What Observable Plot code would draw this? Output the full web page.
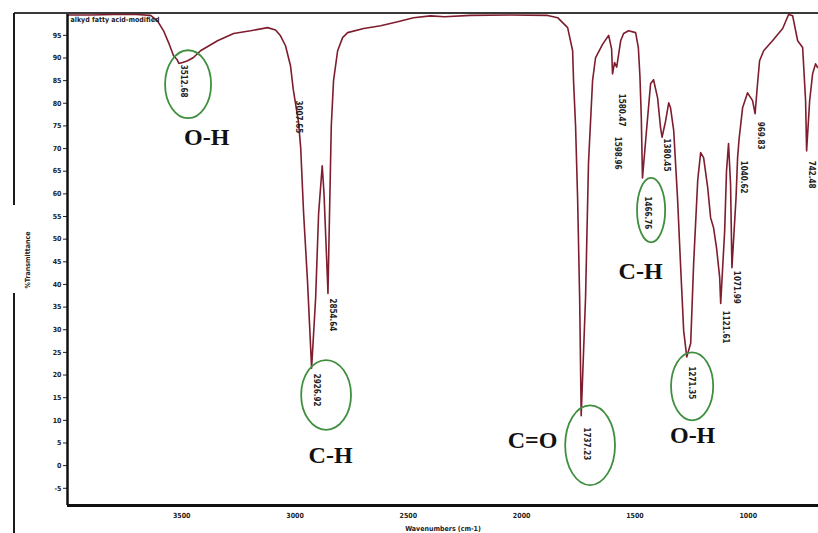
<!DOCTYPE html>
<html><head><meta charset="utf-8">
<script src="https://cdn.jsdelivr.net/npm/d3@7"></script>
<script src="https://cdn.jsdelivr.net/npm/@observablehq/plot@0.6"></script>
<style>
body{margin:0;background:#fff;}
#chart svg{display:block;}
</style></head><body><div id="chart"></div>
<script>
// Spectrum
const wavenumber = [4000,3900,3800,3700,3637,3607,3580,3558,3536,3520,3512.68,3496,3474,3448,3417,3342,3271,3196,3121,3086,3064,3042,3020,3007.65,2985,2975,2962,2945,2931,2926.92,2909,2896,2880,2872,2864,2856,2854.64,2848,2840,2830,2812,2790,2768,2697,2622,2547,2477,2402,2340,2225,2049,1885,1841,1797,1775,1771,1762,1753,1744,1737.23,1718,1705,1687,1674,1643,1616,1603,1598.96,1590,1580.47,1563,1550,1528,1497,1485,1478,1472,1466.76,1449,1431,1418,1400,1387,1380.45,1365,1351,1343,1329,1312,1299,1285,1271.35,1254,1241,1223,1210,1197,1179,1166,1153,1140,1126,1121.61,1104,1096,1087,1078,1071.99,1054,1047,1040.62,1025,1003,981,969.83,959,950,932,893,848,822,804,782,760,747,742.48,729,716,703,694,690];
const transmittance = [99.5,99.5,99.6,99.6,99.4,98.2,96.0,93.4,90.5,89.6,88.8,89.0,89.4,90.1,91.6,93.8,95.4,96.0,96.7,96.2,94.9,92.7,88.3,83.0,76,70.2,55.6,40.8,26,21.5,37,55.6,66.2,60,50,40,38,55,75,85,91.6,94.5,95.6,96.5,97.1,98.0,98.9,99.3,99.1,99.4,99.5,99.4,98.9,96.7,91.6,85,75,59,37,11,37,66.7,85,90,93,95,92,86.5,89,88,93.8,95.4,96,95.6,92.3,86,77,63.5,74,84.3,85.2,81.2,74.6,72.5,76,80.1,79,74,59,44.6,29.8,24,27,44.6,63,69.1,68,61.4,54.7,52.5,48.1,41.5,35.8,51.9,65,71.1,62,43.7,59,68,72,79,82.3,80.6,77.7,84.3,89.4,91.6,93.8,96.5,99.6,99.3,93.8,92.3,80.6,69.5,80.6,86.5,88.7,87.9,88];

// Peak labels: wavenumber and %T where the label starts
const peakWavenumber = [3512.68,3007.65,2926.92,2854.64,1737.23,1598.96,1580.47,1466.76,1380.45,1271.35,1121.61,1071.99,1040.62,969.83,742.48];
const peakLabelAt = [88.5,80.6,20.3,36.9,8.4,72.6,82.1,59.4,72.2,21.9,34.2,43,67.3,75.9,67.3];

// Circled bands (centre and half extents in data units)
const ringWavenumber = [3469.7,2860.7,1695.7,1426.5,1245.5];
const ringT = [84.1,15.5,4.4,56.3,17.4];
const ringHalfWidth = [101.5,110,110,62,93];
const ringHalfHeight = [7.5,7.7,8.8,7.1,7.5];

// Group assignments
const groupLabel = ["O-H","C-H","C=O","C-H","O-H"];
const groupWavenumber = [3390,2843,1951.6,1475,1245.5];
const groupT = [72.4,2.2,5.5,43,6.6];

const xTicks = [3500,3000,2500,2000,1500,1000];
const yTicks = [-5,0,5,10,15,20,25,30,35,40,45,50,55,60,65,70,75,80,85,90,95];
const title = "alkyd fatty acid-modified";

const spectrum = wavenumber.map((w,i)=>({w, t: transmittance[i]}));
const peaks = peakWavenumber.map((w,i)=>({w, t: peakLabelAt[i], label: w.toFixed(2)}));
const rings = ringWavenumber.map((w,i)=>({w, t: ringT[i], hw: ringHalfWidth[i], ht: ringHalfHeight[i]}));
const groups = groupLabel.map((g,i)=>({label: g, w: groupWavenumber[i], t: groupT[i]}));

const NS = "http://www.w3.org/2000/svg";
function ringMark(index, scales) {
  const g = document.createElementNS(NS, "g");
  for (const r of rings) {
    const e = document.createElementNS(NS, "ellipse");
    const cx = scales.x(r.w), cy = scales.y(r.t);
    e.setAttribute("cx", cx);
    e.setAttribute("cy", cy);
    e.setAttribute("rx", Math.abs(scales.x(r.w + r.hw) - cx));
    e.setAttribute("ry", Math.abs(scales.y(r.t + r.ht) - cy));
    e.setAttribute("fill", "none");
    e.setAttribute("stroke", "#3f8f3f");
    e.setAttribute("stroke-width", "1.8");
    g.appendChild(e);
  }
  return g;
}
function frameMark(index, scales, values, dims) {
  const g = document.createElementNS(NS, "g");
  const top = dims.marginTop - 1;
  const mk = (x1,y1,x2,y2,w,c) => {
    const l = document.createElementNS(NS, "line");
    l.setAttribute("x1",x1); l.setAttribute("y1",y1); l.setAttribute("x2",x2); l.setAttribute("y2",y2);
    l.setAttribute("stroke", c); l.setAttribute("stroke-width", w);
    g.appendChild(l);
  };
  mk(14, top, dims.width, top, 2, "#3a3a3a");
  mk(14, top, 14, 205, 2, "#1a1a1a");
  mk(14, 293, 14, dims.height, 2, "#1a1a1a");
  return g;
}

const chart = Plot.plot({
  width: 818, height: 533,
  marginLeft: 67, marginRight: 0, marginTop: 14, marginBottom: 28,
  style: {fontFamily: "'DejaVu Sans Condensed','Liberation Sans Narrow',sans-serif", fontWeight: "bold", fontSize: "7px", background: "#fff", color: "#222", overflow: "visible"},
  x: {domain: [4004, 690], ticks: xTicks, tickSize: 0, tickPadding: 8, tickFormat: d => String(d), label: "Wavenumbers (cm-1)", labelAnchor: "center", labelOffset: 25, labelArrow: "none"},
  y: {domain: [-8.8, 99.6], ticks: yTicks, tickSize: 4, tickPadding: 2, tickFormat: d => String(d), label: "%Transmittance", labelAnchor: "center", labelOffset: 42, labelArrow: "none"},
  marks: [
    frameMark,
    Plot.line(spectrum, {x: "w", y: "t", stroke: "#7d1d2e", strokeWidth: 1.6, curve: "linear"}),
    Plot.ruleX([4004], {stroke: "#111", strokeWidth: 2.5}),
    Plot.ruleY([-8.8], {stroke: "#111", strokeWidth: 3}),
    Plot.text(peaks, {x: "w", y: "t", text: "label", rotate: 90, textAnchor: "start", dx: 5, fontSize: 8, fill: "#222"}),
    ringMark,
    Plot.text(groups, {x: "w", y: "t", text: "label", fontSize: 24, fontFamily: "'Liberation Serif','Times New Roman',serif", fontWeight: "bold", fill: "#111"}),
    Plot.text([title], {frameAnchor: "top-left", dx: 3, dy: 3, textAnchor: "start", fontSize: 7, fill: "#222"})
  ]
});
document.getElementById("chart").appendChild(chart);
</script></body></html>
